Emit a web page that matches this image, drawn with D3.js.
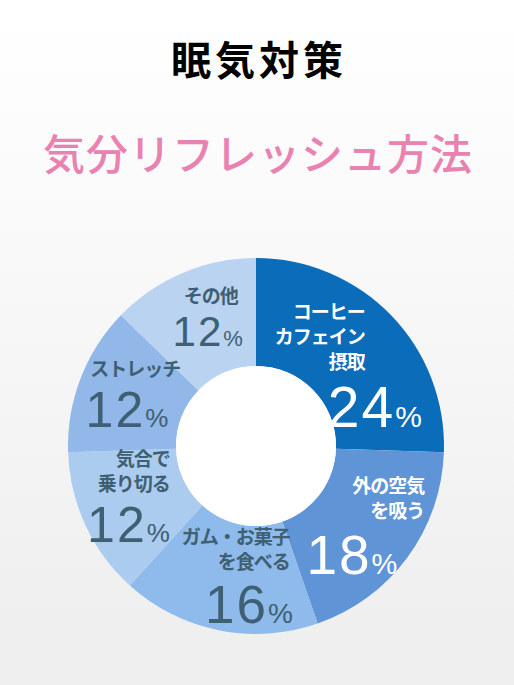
<!DOCTYPE html>
<html>
<head>
<meta charset="utf-8">
<script src="https://cdn.jsdelivr.net/npm/d3@7"></script>
<style>
  html, body { margin: 0; padding: 0; }
  body { width: 514px; height: 685px; overflow: hidden; }
</style>
</head>
<body>
<svg id="chart" width="514" height="685"></svg>
<script>
// chart data
const categories = [
  ["コーヒー", "カフェイン", "摂取"],
  ["外の空気", "を吸う"],
  ["ガム・お菓子", "を食べる"],
  ["気合で", "乗り切る"],
  ["ストレッチ"],
  ["その他"]
];
const values = [24, 18, 16, 12, 12, 12];

// styles per slice
const sliceColors = ["#0b6cb9", "#5f95d6", "#8ebaec", "#abcbef", "#91b8e8", "#b9d3f0"];
const textColors = ["#ffffff", "#ffffff", "#3f6072", "#3f6072", "#3f6072", "#3f6072"];
const pctSizes = [57, 55, 53, 50, 50, 42];
// where the big number ends relative to the right edge of the name lines
const pctShift = [57, -27, 3, 0, -12, 5];
// small nudges of each label block away from the centroid
const labelNudge = [[-4, 12], [2, 0], [8, -2], [-6, -6], [2, -4], [4, -6]];

const width = 514, height = 685;
const cx = 256, cy = 446;
const outerR = 188, innerR = 80, labelR = 134;
const nameSize = 19, lineH = 25;

const svg = d3.select("#chart");

// background gradient
const defs = svg.append("defs");
const grad = defs.append("linearGradient")
  .attr("id", "bg").attr("x1", 0).attr("y1", 0).attr("x2", 0).attr("y2", 1);
grad.append("stop").attr("offset", "0").attr("stop-color", "#ffffff");
grad.append("stop").attr("offset", "0.3").attr("stop-color", "#fafafa");
grad.append("stop").attr("offset", "0.9").attr("stop-color", "#efefef");
grad.append("stop").attr("offset", "1").attr("stop-color", "#efefef");
svg.append("rect").attr("width", width).attr("height", height).attr("fill", "url(#bg)");

// titles
svg.append("text")
  .attr("x", width / 2 + 2).attr("y", 75)
  .attr("text-anchor", "middle")
  .style("font-family", "'Noto Sans CJK JP', sans-serif")
  .style("font-weight", 700)
  .style("font-size", "40px")
  .style("letter-spacing", "4px")
  .attr("fill", "#000")
  .text("眠気対策");

svg.append("text")
  .attr("x", width / 2 + 1).attr("y", 170)
  .attr("text-anchor", "middle")
  .style("font-family", "'Noto Sans CJK JP', sans-serif")
  .style("font-weight", 500)
  .style("font-size", "42px")
  .style("letter-spacing", "1px")
  .attr("fill", "#e982b1")
  .text("気分リフレッシュ方法");

// donut
const pie = d3.pie().sort(null).value((d) => d);
const arcs = pie(values);
const arc = d3.arc().innerRadius(innerR).outerRadius(outerR);
const labelArc = d3.arc().innerRadius(labelR).outerRadius(labelR);

const g = svg.append("g").attr("transform", `translate(${cx},${cy})`);

g.selectAll("path.slice")
  .data(arcs)
  .enter()
  .append("path")
  .attr("class", "slice")
  .attr("d", arc)
  .attr("fill", (d, i) => sliceColors[i]);

g.append("circle").attr("r", innerR).attr("fill", "#ffffff");

// labels: name lines right aligned, big percentage below, block centred near the centroid
arcs.forEach((d, i) => {
  const lines = categories[i];
  const block = g.append("g");

  const names = block.append("text")
    .attr("text-anchor", "end")
    .style("font-family", "'Noto Sans CJK JP', sans-serif")
    .style("font-weight", 700)
    .style("font-size", nameSize + "px")
    .style("letter-spacing", "-1px")
    .attr("fill", textColors[i]);
  lines.forEach((line, j) => {
    names.append("tspan").attr("x", 0).attr("y", j * lineH).text(line);
  });

  const pctBase = (lines.length - 1) * lineH + pctSizes[i] * 1.02;
  const pct = block.append("text")
    .attr("x", pctShift[i])
    .attr("y", pctBase)
    .attr("text-anchor", "end")
    .style("font-family", "'Liberation Sans', Arial, sans-serif")
    .style("font-size", pctSizes[i] + "px")
    .attr("fill", textColors[i]);
  pct.append("tspan").style("letter-spacing", "2px").text(values[i]);
  pct.append("tspan").style("font-size", Math.round(pctSizes[i] * 0.52) + "px").text("%");

  // centre on the ink: top of first line to baseline of the number
  const bb = block.node().getBBox();
  const inkTop = -nameSize * 0.82;
  const midY = (inkTop + pctBase) / 2;
  const midX = bb.x + bb.width / 2;
  const [lx, ly] = labelArc.centroid(d);
  block.attr("transform",
    `translate(${lx - midX + labelNudge[i][0]},${ly - midY + labelNudge[i][1]})`);
});
</script>
</body>
</html>
